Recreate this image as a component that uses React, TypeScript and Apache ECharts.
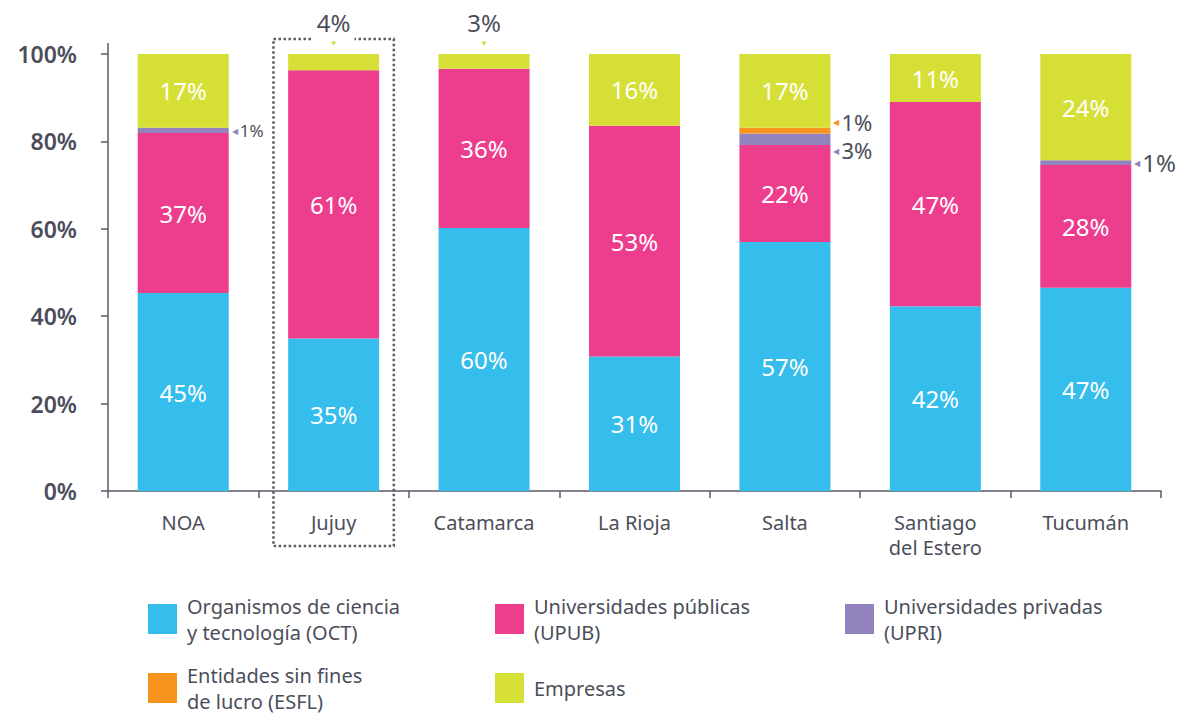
import React, { useEffect, useRef } from "react";
import * as echarts from "echarts";

const categories = ["NOA", "Jujuy", "Catamarca", "La Rioja", "Salta", "Santiago\ndel Estero", "Tucumán"];
const oct = [45.3, 34.9, 60.2, 30.8, 57.0, 42.3, 46.5];
const upub = [36.6, 61.4, 36.4, 52.8, 22.2, 46.7, 28.1];
const upri = [1.2, 0, 0, 0, 2.6, 0, 1.1];
const esfl = [0, 0, 0, 0, 1.3, 0, 0];
const empresas = [16.9, 3.7, 3.4, 16.4, 16.9, 11.0, 24.3];
const seriesNames = [
  "Organismos de ciencia\ny tecnología (OCT)",
  "Universidades públicas\n(UPUB)",
  "Universidades privadas\n(UPRI)",
  "Entidades sin fines\nde lucro (ESFL)",
  "Empresas",
];
const highlighted = "Jujuy";

const colors = ["#35BDEC", "#ED3D8D", "#9282BE", "#F7931F", "#D6DF36"];
const TEXT = "#4b4e5a";
const AXIS = "#5a5d68";
const FONT = "'Noto Sans', sans-serif";

// label tweaks for small outside labels: "seriesIndex-categoryIndex" -> style
const outsideTweaks: Record<string, { offset?: number[]; fontSize?: number }> = {
  "2-0": { fontSize: 17 },
  "3-4": { offset: [0, -9], fontSize: 22 },
  "2-4": { offset: [0, 11], fontSize: 22 },
};

function buildData(values: number[], si: number) {
  const color = colors[si];
  return values.map((v, ci) => {
    const txt = Math.round(v) + "%";
    if (v <= 0) return { value: v, label: { show: false } };
    if (v >= 5) {
      return {
        value: v,
        label: { show: true, position: "inside", color: "#fff", fontSize: 24, fontFamily: FONT, formatter: txt },
      };
    }
    const tw = outsideTweaks[si + "-" + ci] || {};
    const fs = tw.fontSize || 24;
    if (si === 4) {
      return {
        value: v,
        label: {
          show: true,
          position: "top",
          distance: 3,
          formatter: "{v|" + txt + "}\n{t|▼}",
          backgroundColor: "#fff",
          padding: [0, 4, 0, 4],
          rich: {
            v: { fontSize: fs, color: TEXT, fontFamily: FONT, lineHeight: 22 },
            t: { fontSize: 8, color, lineHeight: 18 },
          },
        },
      };
    }
    return {
      value: v,
      label: {
        show: true,
        position: "right",
        distance: 3,
        offset: tw.offset || [0, 0],
        formatter: "{t|◀}{v|" + txt + "}",
        rich: {
          v: { fontSize: fs, color: TEXT, fontFamily: FONT, lineHeight: fs - 4 },
          t: { fontSize: 8, color, padding: [0, 2, 0, 0] },
        },
      },
    };
  });
}

export default function App() {
  const ref = useRef<HTMLDivElement>(null);
  useEffect(() => {
    document.body.style.margin = "0";
    const chart = echarts.init(ref.current!, null, { renderer: "svg" });
    const all = [oct, upub, upri, esfl, empresas];
    const legendPos = [
      { left: 143, top: 588 },
      { left: 490, top: 588 },
      { left: 840, top: 588 },
      { left: 143, top: 657 },
      { left: 490, top: 668 },
    ];
    chart.setOption({
      animation: false,
      textStyle: { fontFamily: FONT },
      grid: { left: 108, right: 21, top: 54, bottom: 223 },
      legend: seriesNames.map((n, i) => ({
        data: [n],
        left: legendPos[i].left,
        top: legendPos[i].top,
        itemWidth: 29,
        itemHeight: 30,
        icon: "rect",
        selectedMode: false,
        textStyle: { color: TEXT, fontSize: 20, lineHeight: 26, fontFamily: FONT, padding: [0, 0, 0, 5] },
      })),
      xAxis: {
        type: "category",
        data: categories,
        axisLine: { lineStyle: { color: AXIS, width: 1.5 } },
        axisTick: { show: true, length: 7, lineStyle: { color: AXIS, width: 1.5 } },
        axisLabel: { color: TEXT, fontSize: 20, margin: 19, lineHeight: 25, fontFamily: FONT },
      },
      yAxis: {
        type: "value",
        min: 0,
        max: 100,
        interval: 20,
        splitLine: { show: false },
        axisLine: { show: true, lineStyle: { color: AXIS, width: 1.5 } },
        axisTick: { show: true, length: 7, lineStyle: { color: AXIS, width: 1.5 } },
        axisLabel: { color: TEXT, fontSize: 23, fontWeight: 600, margin: 31, formatter: "{value}%", fontFamily: FONT },
      },
      series: all.map((vals, si) => ({
        name: seriesNames[si],
        type: "bar",
        stack: "total",
        barWidth: 91,
        itemStyle: { color: colors[si] },
        data: buildData(vals, si),
      })),
    });
    const idx = categories.indexOf(highlighted);
    const p0 = chart.convertToPixel({ gridIndex: 0 }, [idx, 100]) as number[];
    const p1 = chart.convertToPixel({ gridIndex: 0 }, [idx + 1, 0]) as number[];
    const o = chart.convertToPixel({ gridIndex: 0 }, [0, 100]) as number[];
    const band = p1[0] - p0[0];
    const axisX = o[0] - band / 2;
    const halfW = band * 0.4;
    chart.setOption({
      graphic: [
        {
          type: "rect",
          z: 0,
          shape: { x: p0[0] - halfW, y: p0[1] - 15, width: halfW * 2, height: p1[1] - p0[1] + 70 },
          style: { fill: "none", stroke: AXIS, lineWidth: 2.5, lineDash: [2.5, 2.5] },
        },
        {
          type: "line",
          z: 0,
          shape: { x1: axisX, y1: o[1] - 11, x2: axisX, y2: o[1] },
          style: { stroke: AXIS, lineWidth: 1.5 },
        },
      ],
    });
    return () => chart.dispose();
  }, []);
  return <div ref={ref} style={{ width: 1182, height: 714 }} />;
}
